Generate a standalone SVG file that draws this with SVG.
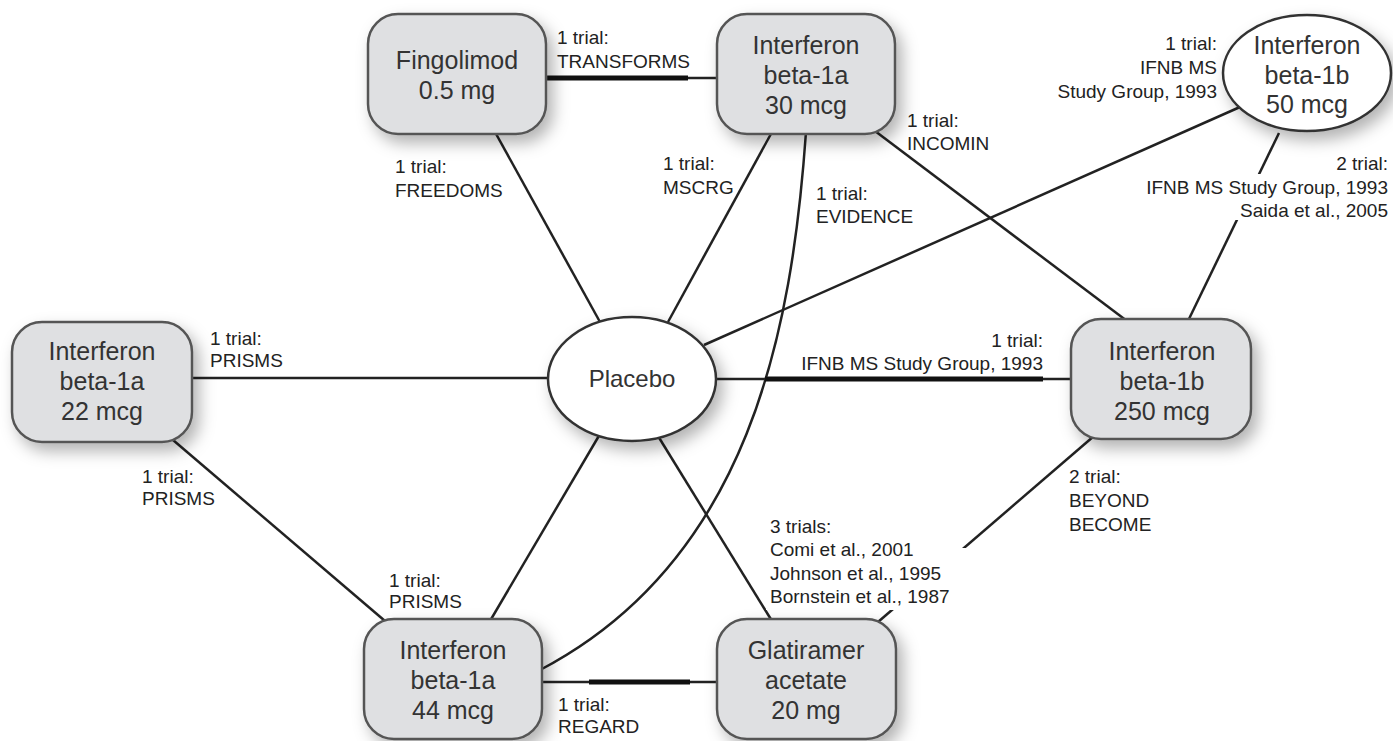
<svg xmlns="http://www.w3.org/2000/svg" width="1393" height="741" viewBox="0 0 1393 741">
<defs>
<filter id="sh" x="-20%" y="-20%" width="150%" height="160%">
<feDropShadow dx="6" dy="8" stdDeviation="8" flood-color="#000" flood-opacity="0.3"/>
</filter>
<style>
.box{fill:#dfe0e2;stroke:#555;stroke-width:2.5}
.ell{fill:#fff;stroke:#333;stroke-width:2.5}
.nt{font-family:"Liberation Sans",Arial,sans-serif;font-size:25px;fill:#333;text-anchor:middle}
.lb{font-family:"Liberation Sans",Arial,sans-serif;font-size:19px;fill:#222}
.ln{stroke:#222;stroke-width:2.5;fill:none}
.tk{stroke:#111;stroke-width:5;fill:none}
.bg{fill:#fff}
</style>
</defs>
<rect width="1393" height="741" fill="#fff"/>
<g id="connectors">
<line class="ln" x1="545" y1="78" x2="718" y2="78"/>
<line class="tk" x1="546" y1="78" x2="688" y2="78"/>
<line class="ln" x1="495" y1="132" x2="600" y2="322"/>
<line class="ln" x1="772" y1="132" x2="668" y2="322"/>
<path class="ln" d="M806,132 C792,330 750,560 540,670"/>
<line class="ln" x1="875" y1="131" x2="1127" y2="321"/>
<line class="ln" x1="704" y1="345" x2="1240" y2="107"/>
<line class="ln" x1="1279" y1="133" x2="1188" y2="321"/>
<line class="ln" x1="190" y1="378" x2="550" y2="378"/>
<line class="ln" x1="714" y1="379" x2="1072" y2="379"/>
<line class="tk" x1="765" y1="379" x2="1043" y2="379"/>
<line class="ln" x1="173" y1="440" x2="385" y2="621"/>
<line class="ln" x1="600" y1="434" x2="490" y2="621"/>
<line class="ln" x1="658" y1="436" x2="772" y2="621"/>
<line class="ln" x1="1094" y1="436" x2="878" y2="622"/>
<line class="ln" x1="540" y1="682" x2="718" y2="682"/>
<line class="tk" x1="589" y1="682" x2="690" y2="682"/>
</g>
<g id="labels">
<rect class="bg" x="1135" y="174" width="256" height="24"/>
<rect class="bg" x="1230" y="198" width="161" height="22"/>
<rect class="bg" x="766" y="548" width="200" height="62"/>
<text class="lb"><tspan x="557" y="44">1 trial:</tspan><tspan x="557" y="68">TRANSFORMS</tspan></text>
<text class="lb"><tspan x="395" y="173">1 trial:</tspan><tspan x="395" y="197">FREEDOMS</tspan></text>
<text class="lb"><tspan x="663" y="170">1 trial:</tspan><tspan x="663" y="194">MSCRG</tspan></text>
<text class="lb"><tspan x="816" y="200">1 trial:</tspan><tspan x="816" y="223">EVIDENCE</tspan></text>
<text class="lb"><tspan x="907" y="127">1 trial:</tspan><tspan x="907" y="150">INCOMIN</tspan></text>
<text class="lb" text-anchor="end"><tspan x="1217" y="50">1 trial:</tspan><tspan x="1217" y="74">IFNB MS</tspan><tspan x="1217" y="98">Study Group, 1993</tspan></text>
<text class="lb" text-anchor="end"><tspan x="1388" y="170">2 trial:</tspan><tspan x="1388" y="194">IFNB MS Study Group, 1993</tspan><tspan x="1388" y="217">Saida et al., 2005</tspan></text>
<text class="lb"><tspan x="210" y="345">1 trial:</tspan><tspan x="210" y="367">PRISMS</tspan></text>
<text class="lb" text-anchor="end"><tspan x="1043" y="347">1 trial:</tspan><tspan x="1043" y="370">IFNB MS Study Group, 1993</tspan></text>
<text class="lb"><tspan x="142" y="483">1 trial:</tspan><tspan x="142" y="505">PRISMS</tspan></text>
<text class="lb"><tspan x="389" y="587">1 trial:</tspan><tspan x="389" y="608">PRISMS</tspan></text>
<text class="lb"><tspan x="1069" y="483">2 trial:</tspan><tspan x="1069" y="507">BEYOND</tspan><tspan x="1069" y="531">BECOME</tspan></text>
<text class="lb"><tspan x="770" y="533">3 trials:</tspan><tspan x="770" y="556">Comi et al., 2001</tspan><tspan x="770" y="580">Johnson et al., 1995</tspan><tspan x="770" y="603">Bornstein et al., 1987</tspan></text>
<text class="lb"><tspan x="558" y="711">1 trial:</tspan><tspan x="558" y="733">REGARD</tspan></text>
</g>
<g id="node-fingolimod">
<rect class="box" filter="url(#sh)" x="368" y="14" width="178" height="120" rx="30"/>
<text class="nt"><tspan x="457" y="69">Fingolimod</tspan><tspan x="457" y="99">0.5 mg</tspan></text>
</g>
<g id="node-ifn1a30">
<rect class="box" filter="url(#sh)" x="717" y="14" width="178" height="120" rx="30"/>
<text class="nt"><tspan x="806" y="54">Interferon</tspan><tspan x="806" y="84">beta-1a</tspan><tspan x="806" y="114">30 mcg</tspan></text>
</g>
<g id="node-ifn1b50">
<ellipse class="ell" filter="url(#sh)" cx="1307" cy="73" rx="84" ry="58"/>
<text class="nt"><tspan x="1307" y="54">Interferon</tspan><tspan x="1307" y="84">beta-1b</tspan><tspan x="1307" y="113">50 mcg</tspan></text>
</g>
<g id="node-ifn1a22">
<rect class="box" filter="url(#sh)" x="12" y="322" width="180" height="120" rx="30"/>
<text class="nt"><tspan x="102" y="360">Interferon</tspan><tspan x="102" y="390">beta-1a</tspan><tspan x="102" y="420">22 mcg</tspan></text>
</g>
<g id="node-placebo">
<ellipse class="ell" filter="url(#sh)" cx="632" cy="379" rx="84" ry="62"/>
<text class="nt" style="font-size:24px"><tspan x="632" y="387">Placebo</tspan></text>
</g>
<g id="node-ifn1b250">
<rect class="box" filter="url(#sh)" x="1071" y="319" width="180" height="120" rx="30"/>
<text class="nt"><tspan x="1162" y="360">Interferon</tspan><tspan x="1162" y="390">beta-1b</tspan><tspan x="1162" y="420">250 mcg</tspan></text>
</g>
<g id="node-ifn1a44">
<rect class="box" filter="url(#sh)" x="364" y="619" width="178" height="120" rx="30"/>
<text class="nt"><tspan x="453" y="659">Interferon</tspan><tspan x="453" y="689">beta-1a</tspan><tspan x="453" y="719">44 mcg</tspan></text>
</g>
<g id="node-glatiramer">
<rect class="box" filter="url(#sh)" x="717" y="619" width="179" height="120" rx="30"/>
<text class="nt"><tspan x="806" y="659">Glatiramer</tspan><tspan x="806" y="689">acetate</tspan><tspan x="806" y="719">20 mg</tspan></text>
</g>
</svg>
